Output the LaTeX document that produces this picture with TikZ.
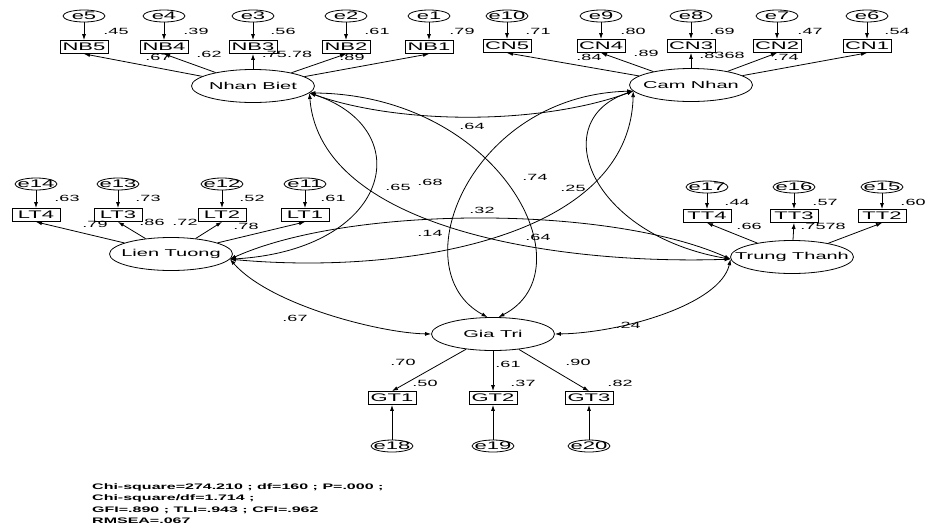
\documentclass[tikz,border=0pt]{standalone}
\usepackage{fontspec}
\usetikzlibrary{arrows.meta,shapes.geometric}
\newfontfamily\amos{Liberation Sans}[FakeStretch=2]
\begin{document}
\begin{tikzpicture}[x=1pt,y=-1pt,
  lat/.style={draw,ellipse,minimum width=123pt,minimum height=33pt,inner sep=0pt,line width=0.8pt},
  lattxt/.style={inner sep=0pt,font=\amos\fontsize{10}{12}\selectfont},
  ind/.style={draw,rectangle,minimum width=48pt,minimum height=13pt,inner sep=0pt,line width=0.8pt,font=\amos\fontsize{11}{12}\selectfont},
  err/.style={draw,ellipse,minimum width=42pt,minimum height=12pt,inner sep=0pt,line width=0.8pt},
  errtxt/.style={inner sep=0pt,font=\amos\fontsize{11}{12}\selectfont},
  num/.style={inner sep=0pt,font=\amos\fontsize{9}{10}\selectfont},
  stat/.style={anchor=west,inner sep=0pt,font=\amos\bfseries\fontsize{8}{9}\selectfont},
  reg/.style={-{Latex[length=6pt,width=4pt]},line width=0.8pt},
  covar/.style={{Latex[length=6pt,width=4pt]}-{Latex[length=6pt,width=4pt]},line width=0.8pt},
]
\fill[white] (0,0) rectangle (929,528);
\useasboundingbox (0,0) rectangle (929,528);

% ---------- latent variables ----------
\node[lat] (NB) at (253,86) {};  \node[lattxt] (NBt) at (NB) {Nhan Biet};
\node[lat] (CN) at (691,85) {};  \node[lattxt] (CNt) at (CN) {Cam Nhan};
\node[lat] (LT) at (171,254) {}; \node[lattxt] (LTt) at (LT) {Lien Tuong};
\node[lat] (TT) at (792,257) {}; \node[lattxt] (TTt) at (TT) {Trung Thanh};
\node[lat] (GT) at (493,334) {}; \node[lattxt] (GTt) at (GT) {Gia Tri};

% ---------- Nhan Biet block ----------
\foreach \n/\x/\e in {NB5/84/e5, NB4/164/e4, NB3/253/e3, NB2/346/e2, NB1/429/e1}{
  \node[ind] (\n) at (\x,47) {\n};
  \node[err] (\e) at (\x,16) {};
  \node[errtxt] (\e t) at (\e) {\e};
  \draw[reg] (\e) -- (\n);
  \draw[reg] (NB) -- (\n.south);
}
% ---------- Cam Nhan block ----------
\foreach \n/\x/\e in {CN5/507/e10, CN4/601/e9, CN3/691/e8, CN2/777/e7, CN1/867/e6}{
  \node[ind] (\n) at (\x,46) {\n};
  \node[err] (\e) at (\x,16) {};
  \node[errtxt] (\e t) at (\e) {\e};
  \draw[reg] (\e) -- (\n);
  \draw[reg] (CN) -- (\n.south);
}
% ---------- Lien Tuong block ----------
\foreach \n/\x/\e in {LT4/36/e14, LT3/118/e13, LT2/222/e12, LT1/305/e11}{
  \node[ind] (\n) at (\x,215) {\n};
  \node[err] (\e) at (\x,184) {};
  \node[errtxt] (\e t) at (\e) {\e};
  \draw[reg] (\e) -- (\n);
  \draw[reg] (LT) -- (\n.south);
}
% ---------- Trung Thanh block ----------
\foreach \n/\x/\e in {TT4/707/e17, TT3/794/e16, TT2/882/e15}{
  \node[ind] (\n) at (\x,216) {\n};
  \node[err] (\e) at (\x,187) {};
  \node[errtxt] (\e t) at (\e) {\e};
  \draw[reg] (\e) -- (\n);
  \draw[reg] (TT) -- (\n.south);
}
% ---------- Gia Tri block ----------
\foreach \n/\x/\e in {GT1/392/e18, GT2/493/e19, GT3/589/e20}{
  \node[ind] (\n) at (\x,398) {\n};
  \node[err] (\e) at (\x,446) {};
  \node[errtxt] (\e t) at (\e) {\e};
  \draw[reg] (\e) -- (\n);
  \draw[reg] (GT) -- (\n.north);
}

% ---------- covariances ----------
\draw[covar] (NB.-7) .. controls (400,125) and (540,125) .. (CN.186);
\draw[covar] (NB.-7) .. controls (420,130) and (390,250) .. (LT.-5);
\draw[covar] (NB.-7) .. controls (320,230) and (560,265) .. (TT.182);
\draw[covar] (NB.-7) .. controls (500,95) and (590,270) .. (GT.72);
\draw[covar] (CN.186) .. controls (630,240) and (400,275) .. (LT.-5);
\draw[covar] (CN.186) .. controls (545,120) and (590,235) .. (TT.182);
\draw[covar] (CN.186) .. controls (470,95) and (400,270) .. (GT.108);
\draw[covar] (LT.-5) .. controls (350,205) and (610,205) .. (TT.182);
\draw[covar] (LT.-5) .. controls (270,305) and (380,333) .. (GT.180);
\draw[covar] (TT.182) .. controls (720,305) and (620,333) .. (GT.0);

% ---------- squared multiple correlations ----------
\foreach \v/\x/\y [count=\i] in {.45/116/31, .39/196/31, .56/283/31, .61/377/31, .79/462/31,
  .71/538/31, .80/633/31, .69/722/31, .47/810/31, .54/897/31,
  .63/67/198, .73/148/198, .52/252/198, .61/333/198,
  .44/737/202, .57/825/202, .60/913/202,
  .50/425/383, .37/523/383, .82/620/383}{
  \node[num] (r\i) at (\x,\y) {\v};
}
% ---------- loadings ----------
\foreach \v/\x/\y [count=\i] in {.67/158/57, .62/209/54, .75.78/287/54, .89/352/57,
  .84/589/57, .89/646/53, .8368/722/55, .74/786/57,
  .79/95/224, .86/152/222, .72/185/222, .78/246/226,
  .66/749/226, .7578/823/226,
  .70/403/362, .61/508/364, .90/578/362}{
  \node[num] (l\i) at (\x,\y) {\v};
}
% ---------- correlations ----------
\foreach \v/\x/\y [count=\i] in {.64/472/126, .65/398/187, .68/430/182, .74/535/177,
  .25/573/188, .32/482/210, .14/430/233, .64/538/237, .67/295/318, .24/628/325}{
  \node[num] (c\i) at (\x,\y) {\v};
}

% ---------- fit statistics ----------
\node[stat] (s1) at (92,487) {Chi-square=274.210 ; df=160 ; P=.000 ;};
\node[stat] (s2) at (92,498) {Chi-square/df=1.714 ;};
\node[stat] (s3) at (92,510) {GFI=.890 ; TLI=.943 ; CFI=.962};
\node[stat] (s4) at (92,521) {RMSEA=.067};
\end{tikzpicture}
\end{document}
